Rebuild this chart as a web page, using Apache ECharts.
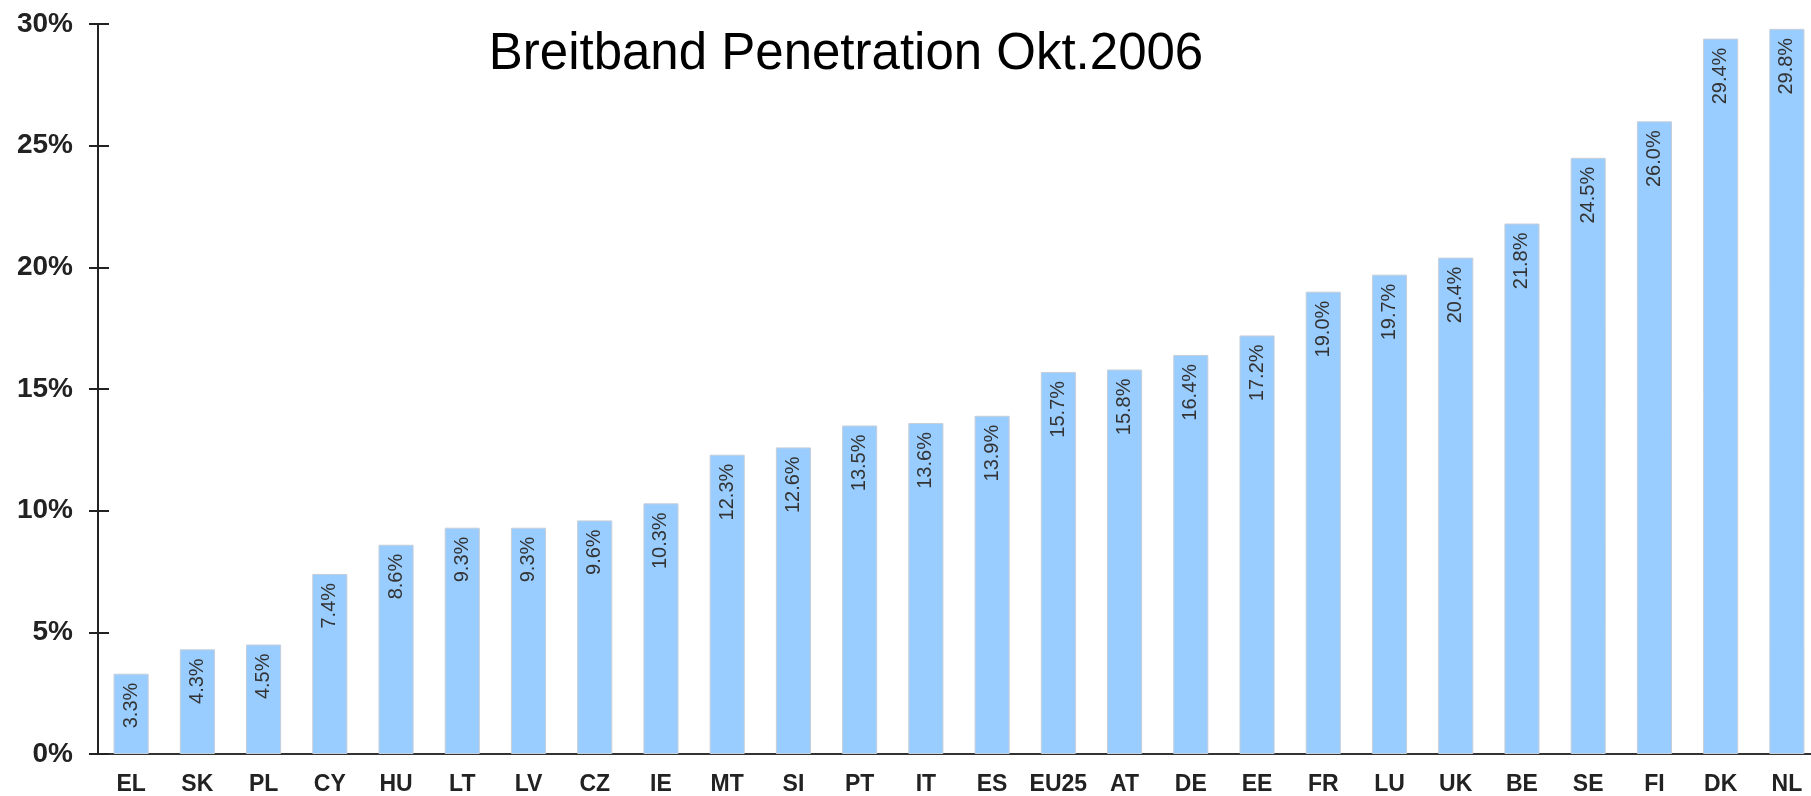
<!DOCTYPE html>
<html>
<head>
<meta charset="utf-8">
<script src="https://cdn.jsdelivr.net/npm/echarts@6/dist/echarts.min.js"></script>
<style>
  html, body { margin: 0; padding: 0; background: #fff; overflow: hidden; }
  /* a bit wider than the window: the last bar in the original touches the right edge */
  #chart { width: 1820px; height: 796px; }
</style>
</head>
<body>
<div id="chart"></div>
<script>
// Breitband Penetration Okt.2006
var countries = ["EL", "SK", "PL", "CY", "HU", "LT", "LV", "CZ", "IE", "MT", "SI", "PT", "IT",
  "ES", "EU25", "AT", "DE", "EE", "FR", "LU", "UK", "BE", "SE", "FI", "DK", "NL"];
var penetration = [3.3, 4.3, 4.5, 7.4, 8.6, 9.3, 9.3, 9.6, 10.3, 12.3, 12.6, 13.5, 13.6,
  13.9, 15.7, 15.8, 16.4, 17.2, 19.0, 19.7, 20.4, 21.8, 24.5, 26.0, 29.4, 29.8];

var chart = echarts.init(document.getElementById("chart"));

var option = {
  animation: false,
  title: {
    text: "Breitband Penetration Okt.2006",
    left: 841,
    top: 24,
    textAlign: "center",
    textStyle: {
      fontFamily: "Liberation Sans",
      fontWeight: "normal",
      fontSize: 51,
      color: "#000"
    }
  },
  grid: { left: 98, right: 0, top: 24, bottom: 42 },
  xAxis: {
    type: "category",
    data: countries,
    axisLine: { lineStyle: { color: "#333", width: 2 } },
    axisTick: { show: false },
    axisLabel: {
      interval: 0,
      margin: 19,
      fontFamily: "Liberation Sans",
      fontWeight: "bold",
      fontSize: 23,
      color: "#222"
    }
  },
  yAxis: [
    {
      type: "value",
      min: 0,
      max: 30,
      interval: 5,
      splitLine: { show: false },
      axisLine: { show: true, lineStyle: { color: "#222", width: 2 } },
      axisTick: { show: true, length: 9, lineStyle: { color: "#222", width: 2 } },
      axisLabel: {
        margin: 25,
        formatter: "{value}%",
        fontFamily: "Liberation Sans",
        fontWeight: "bold",
        fontSize: 28,
        color: "#222"
      }
    },
    {
      // second axis on the same line, only to draw the inner half of the ticks
      type: "value",
      position: "left",
      min: 0,
      max: 30,
      interval: 5,
      splitLine: { show: false },
      axisLine: { show: false },
      axisTick: { show: true, inside: true, length: 11, lineStyle: { color: "#222", width: 2 } },
      axisLabel: { show: false }
    }
  ],
  series: [
    {
      type: "bar",
      data: penetration,
      barWidth: "53%",
      itemStyle: { color: "#99ccff", borderColor: "#c6ced8", borderWidth: 1 },
      label: {
        show: true,
        position: "insideTop",
        distance: 9,
        rotate: 90,
        align: "right",
        verticalAlign: "middle",
        formatter: function (p) { return p.value.toFixed(1) + "%"; },
        fontFamily: "Liberation Sans",
        fontSize: 20,
        color: "#333"
      }
    }
  ]
};

chart.setOption(option);
</script>
</body>
</html>
